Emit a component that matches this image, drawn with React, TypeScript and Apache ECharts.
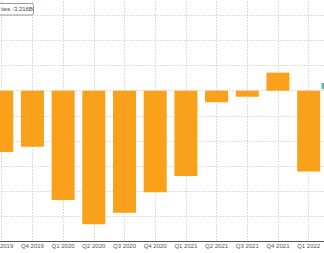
import React, { useEffect, useRef } from "react";
import * as echarts from "echarts";

const categories = [
  "Q3 2019", "Q4 2019", "Q1 2020", "Q2 2020", "Q3 2020", "Q4 2020",
  "Q1 2021", "Q2 2021", "Q3 2021", "Q4 2021", "Q1 2022",
];
const values = [-2.44, -2.23, -4.35, -5.32, -4.86, -4.05, -3.4, -0.46, -0.24, 0.72, -3.216];
const legendText = "ties -3.216B";

const ORANGE = "#F9A11B";
const GRID_COLOR = "#bdbdbd";
const PAD = 20;
const W = 324 + 2 * PAD;
const H = 253 + 2 * PAD;

export default function App() {
  const ref = useRef<HTMLDivElement>(null);
  useEffect(() => {
    if (!ref.current) return;
    const chart = echarts.init(ref.current, null, { renderer: "svg" });
    const top = -9.7 + PAD;
    const bottom = H - (241.3 + PAD);
    chart.setOption({
      animation: false,
      backgroundColor: "#ffffff",
      grid: [
        { left: -13.6 + PAD, right: W - (324 + PAD), top, bottom, containLabel: false },
        { left: 1.7 + PAD, right: W - (308.6 + PAD), top, bottom, containLabel: false },
      ],
      xAxis: [
        {
          type: "category",
          gridIndex: 0,
          data: categories,
          axisLine: { show: true, onZero: false, lineStyle: { color: "#555", width: 1 } },
          axisTick: { show: false },
          axisLabel: {
            fontSize: 6,
            color: "#555",
            margin: 2,
            fontFamily: "Liberation Sans, Arial, sans-serif",
            interval: 0,
          },
          splitLine: { show: false },
          z: 5,
        },
        {
          type: "value",
          gridIndex: 1,
          min: 0,
          max: 10,
          interval: 1,
          axisLine: { show: false },
          axisTick: { show: false },
          axisLabel: { show: false },
          splitLine: { show: true, lineStyle: { color: GRID_COLOR, type: [1, 2], width: 1 } },
        },
      ],
      yAxis: [
        {
          type: "value",
          gridIndex: 0,
          min: -6,
          max: 4,
          interval: 1,
          axisLine: { show: false },
          axisTick: { show: false },
          axisLabel: { show: false },
          splitLine: { show: true, lineStyle: { color: GRID_COLOR, type: [1, 2], width: 1 } },
        },
        {
          type: "value",
          gridIndex: 1,
          min: -6,
          max: 4,
          show: false,
          splitLine: { show: false },
        },
      ],
      series: [
        {
          type: "bar",
          xAxisIndex: 0,
          yAxisIndex: 0,
          data: values,
          barCategoryGap: "25%",
          itemStyle: { color: ORANGE },
          z: 3,
        },
      ],
      graphic: [
        {
          type: "rect",
          shape: { x: -20 + PAD, y: 3.5 + PAD, width: 53.5, height: 11.5, r: 2 },
          style: { fill: "#ffffff", stroke: "#9a9a9a", lineWidth: 1 },
          z: 10,
        },
        {
          type: "text",
          x: 1 + PAD,
          y: 9.3 + PAD,
          style: {
            text: legendText,
            fontSize: 6,
            fill: "#444",
            fontFamily: "Liberation Sans, Arial, sans-serif",
            verticalAlign: "middle",
            align: "left",
          },
          z: 11,
        },
        {
          type: "rect",
          shape: { x: 321.5 + PAD, y: 83 + PAD, width: 3, height: 6 },
          style: { fill: "#5bb8b4" },
          z: 10,
        },
      ],
    });
    return () => chart.dispose();
  }, []);
  return (
    <div style={{ position: "absolute", left: 0, top: 0, width: 324, height: 253, overflow: "hidden" }}>
      <div ref={ref} style={{ position: "absolute", left: -PAD, top: -PAD, width: W, height: H }} />
    </div>
  );
}
